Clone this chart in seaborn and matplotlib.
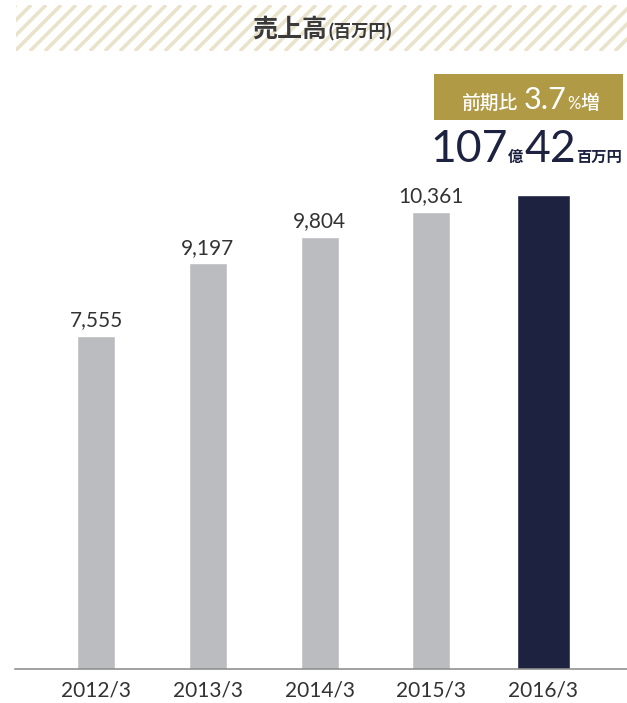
import matplotlib
matplotlib.use("Agg")
import matplotlib.pyplot as plt
import seaborn as sns
import pandas as pd

# Net sales by fiscal year (millions of yen)
years = ["2012/3", "2013/3", "2014/3", "2015/3", "2016/3"]
sales = [7555, 9197, 9804, 10361, 10742]
bar_colors = ["#BBBCC0", "#BBBCC0", "#BBBCC0", "#BBBCC0", "#1D2240"]

title_main = "売上高"
title_unit = "(百万円)"

sns.set_theme(style="white")
plt.rcParams["font.family"] = ["Lato", "Noto Sans CJK JP", "DejaVu Sans"]

W, H = 627, 703
fig = plt.figure(figsize=(W / 100, H / 100), dpi=100)
fig.patch.set_facecolor("white")
renderer = fig.canvas.get_renderer()

TEXT = "#333333"
NAVY = "#1D2240"
GOLD = "#B09A46"
CJK = ["Noto Sans CJK JP", "DejaVu Sans"]

# ---- striped title banner ----
bx0, bx1, by0, by1 = 16, 627, 5, 51
axb = fig.add_axes([bx0 / W, 1 - by1 / H, (bx1 - bx0) / W, (by1 - by0) / H])
bw, bh = bx1 - bx0, by1 - by0
axb.set_xlim(0, bw)
axb.set_ylim(0, bh)
axb.axis("off")
step = 15
c = -bh
while c < bw + step:
    axb.plot([c, c + bh], [0, bh], color="#E9E3CB", lw=2.6, solid_capstyle="butt")
    c += step


def px(x, y):
    return x / W, 1 - y / H


def place_runs(parts, x, y, align="left"):
    """Lay out text pieces of mixed size on one baseline."""
    texts = []
    cx = x
    for s, kw, gap in parts:
        cx += gap
        t = fig.text(*px(cx, y), s, ha="left", va="baseline", **kw)
        bb = t.get_window_extent(renderer)
        cx = bb.x1
        texts.append(t)
    total = cx - x
    shift = {"left": 0, "center": -total / 2, "right": -total}[align]
    for t in texts:
        ox, oy = t.get_position()
        t.set_position((ox + shift / W, oy))
    return texts


# title
place_runs(
    [
        (title_main, dict(family=CJK, fontsize=18, fontweight="bold", color="#3A3A3A"), 0),
        (title_unit, dict(family=CJK, fontsize=12.5, fontweight="bold", color="#3A3A3A"), 1),
    ],
    (bx0 + bx1) / 2 + 1, 37, align="center",
)

# ---- bar chart ----
base_px, top_px = 669, 130
scale = 0.0441  # pixels per million yen
ax = fig.add_axes([15 / W, 1 - base_px / H, 612 / W, (base_px - top_px) / H])
df = pd.DataFrame({"year": years, "sales": sales})
sns.barplot(data=df, x="year", y="sales", hue="year", palette=bar_colors,
            legend=False, width=0.34, saturation=1, ax=ax)

# latest year drawn wider
last = ax.patches[-1]
cxl = last.get_x() + last.get_width() / 2
last.set_width(0.475)
last.set_x(cxl - 0.475 / 2)

ax.set_xlim(-0.725, 4.75)
ax.set_ylim(0, (base_px - top_px) / scale)
ax.set_xlabel("")
ax.set_ylabel("")
ax.set_yticks([])
for s in ["top", "right", "left"]:
    ax.spines[s].set_visible(False)
ax.spines["bottom"].set_color("#888888")
ax.spines["bottom"].set_linewidth(1.1)
ax.tick_params(axis="x", length=0, pad=8, labelsize=15, labelcolor=TEXT)
ax.set_facecolor("none")

labels = [f"{v:,}" for v in sales[:-1]] + [""]
for cont, lab in zip(ax.containers, labels):
    ax.bar_label(cont, labels=[lab], padding=4, fontsize=15, color=TEXT)

# ---- highlight for the latest year ----
growth = (sales[-1] / sales[-2] - 1) * 100
oku, rest = divmod(sales[-1], 100)

box_x0, box_x1, box_y0, box_y1 = 434, 623, 74, 120
axg = fig.add_axes([box_x0 / W, 1 - box_y1 / H, (box_x1 - box_x0) / W, (box_y1 - box_y0) / H])
axg.set_facecolor(GOLD)
axg.set_xticks([])
axg.set_yticks([])
for s in axg.spines.values():
    s.set_visible(False)

place_runs(
    [
        ("前期比", dict(family=CJK, fontsize=13.5, fontweight="medium", color="white"), 0),
        (f"{growth:.1f}", dict(fontsize=22, fontweight="normal", color="white"), 6),
        ("%", dict(fontsize=12, fontweight="normal", color="white"), 1),
        ("増", dict(family=CJK, fontsize=13.5, fontweight="medium", color="white"), 0),
    ],
    (box_x0 + box_x1) / 2 + 2, 109, align="center",
)

place_runs(
    [
        (str(oku), dict(fontsize=32, color=NAVY), 0),
        ("億", dict(family=CJK, fontsize=11, fontweight="bold", color=NAVY), 0),
        (str(rest), dict(fontsize=32, color=NAVY), 1),
        ("百万円", dict(family=CJK, fontsize=11, fontweight="bold", color=NAVY), 0),
    ],
    622, 162, align="right",
)

fig.savefig("out.png", dpi=100)
